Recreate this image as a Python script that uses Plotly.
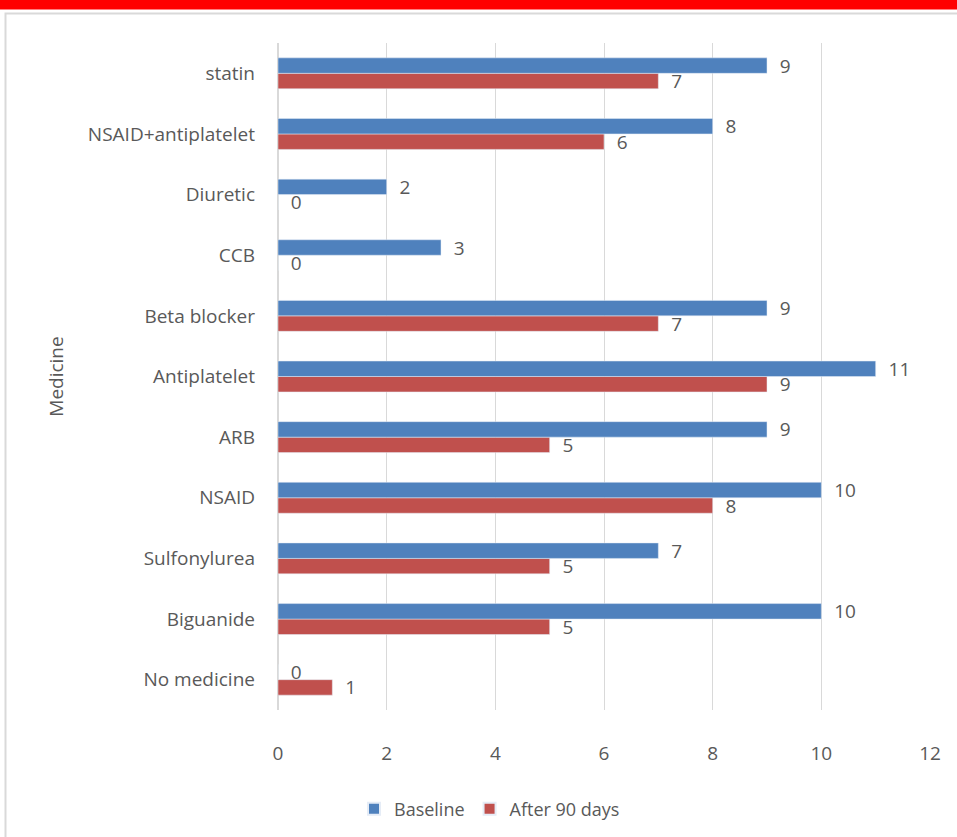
import plotly.graph_objects as go

categories = ["No medicine", "Biguanide", "Sulfonylurea", "NSAID", "ARB", "Antiplatelet",
              "Beta blocker", "CCB", "Diuretic", "NSAID+antiplatelet", "statin"]
baseline = [0, 10, 7, 10, 9, 11, 9, 3, 2, 8, 9]
after90 = [1, 5, 5, 8, 5, 9, 7, 0, 0, 6, 7]
x_ticks = [0, 2, 4, 6, 8, 10, 12]

BLUE = "#4F81BD"
RED = "#C0504D"
TXT = "#595959"
FONT = "Open Sans"
FS = 19

fig = go.Figure()
fig.add_trace(go.Bar(
    y=categories, x=after90, orientation="h", name="After 90 days",
    marker=dict(color=RED), texttemplate="  %{x}", textposition="outside",
    constraintext="none",
    textfont=dict(color=TXT, size=FS, family=FONT), cliponaxis=False,
))
fig.add_trace(go.Bar(
    y=categories, x=baseline, orientation="h", name="Baseline",
    marker=dict(color=BLUE), texttemplate="  %{x}", textposition="outside",
    constraintext="none",
    textfont=dict(color=TXT, size=FS, family=FONT), cliponaxis=False,
))

L, R, T, B = 278, 27, 43, 127
W, H = 957, 837
pw = W - L - R
ph = H - T - B

def px_x(p):
    return (p - L) / pw

def px_y(p):
    return (H - B - p) / ph

shapes = [
    dict(type="rect", xref="paper", yref="paper", x0=px_x(-5), x1=px_x(W + 5),
         y0=px_y(9.5), y1=px_y(-5), fillcolor="#FF0000", line=dict(width=0), layer="below"),
    dict(type="rect", xref="paper", yref="paper", x0=px_x(5.5), x1=px_x(W + 10),
         y0=px_y(H + 10), y1=px_y(13.5), fillcolor="rgba(0,0,0,0)",
         line=dict(color="#D9D9D9", width=2), layer="below"),
]

fig.update_layout(
    width=W, height=H,
    margin=dict(l=L, r=R, t=T, b=B, autoexpand=False),
    paper_bgcolor="white", plot_bgcolor="white",
    barmode="group", bargap=0.49, bargroupgap=0,
    font=dict(family=FONT, size=FS, color=TXT),
    showlegend=True,
    legend=dict(orientation="h", x=px_x(354), xanchor="left", y=px_y(809), yanchor="middle",
                traceorder="reversed", font=dict(size=18, color=TXT, family=FONT),
                itemwidth=30, itemsizing="constant"),
    shapes=shapes,
    xaxis=dict(range=[0, 12], tickvals=x_ticks, showgrid=True, gridcolor="#D9D9D9",
               gridwidth=1, zeroline=True, zerolinecolor="#D9D9D9", showline=False,
               ticks="", ticklabelstandoff=30, tickfont=dict(size=FS, color=TXT, family=FONT)),
    yaxis=dict(categoryorder="array", categoryarray=categories, showgrid=False,
               showline=False, ticks="", ticklabelstandoff=22,
               tickfont=dict(size=FS, color=TXT, family=FONT),
               title=dict(text="Medicine", standoff=19, font=dict(size=FS, color=TXT, family=FONT))),
)

fig.write_html("out.html")
